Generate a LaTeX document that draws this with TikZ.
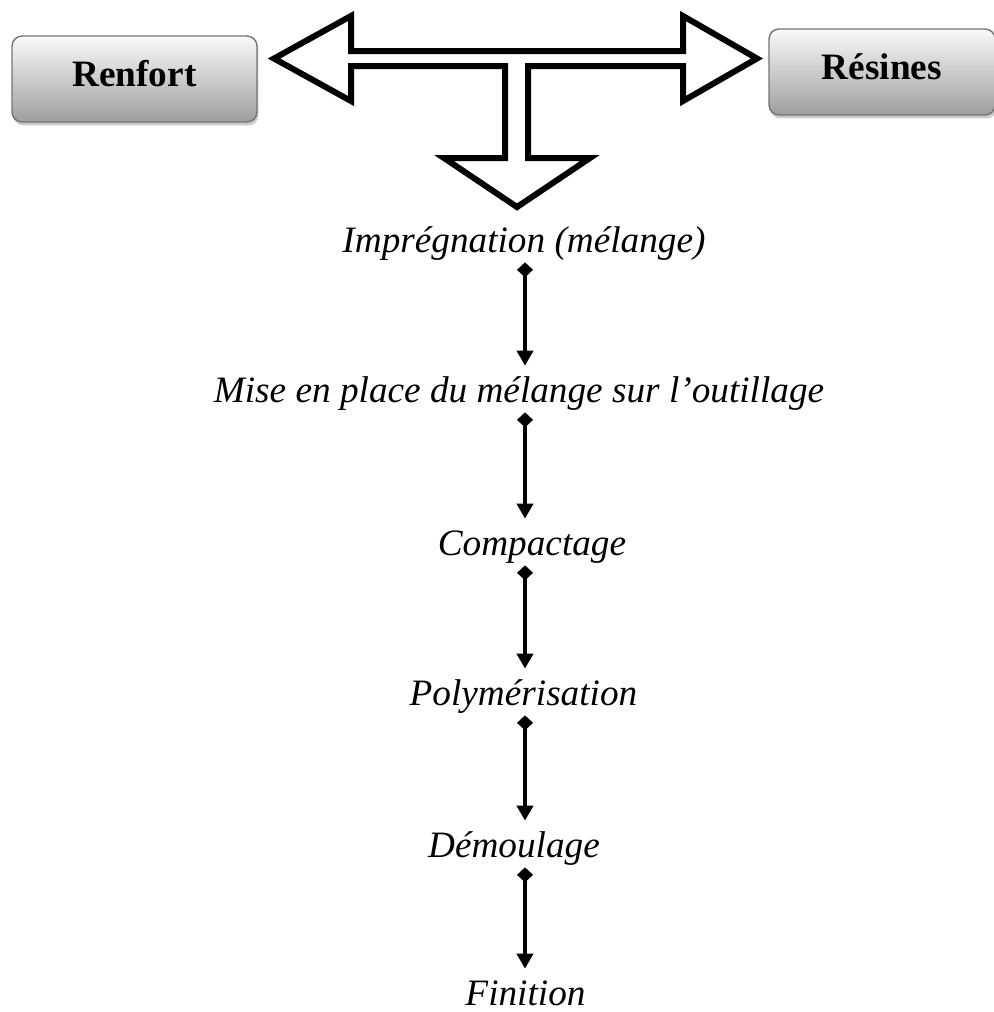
\documentclass[tikz,border=0pt]{standalone}
\usepackage{fontspec}
\setmainfont{Liberation Serif}
\usetikzlibrary{arrows.meta,shadows}

\begin{document}
\begin{tikzpicture}[x=0.02cm,y=-0.02cm]
	\tikzstyle{bloc}=[rectangle, rounded corners=0.2cm, draw=black!55, line width=0.8pt, top color=black!2, bottom color=black!38, minimum height=1.72cm, text height=0.5cm, text depth=0.22cm, font=\fontsize{21.2}{25}\selectfont\bfseries, drop shadow={shadow xshift=0.03cm, shadow yshift=-0.07cm, fill=black!40, opacity=0.5}]
	\tikzstyle{etape}=[anchor=base, inner xsep=0pt, inner ysep=0pt, text height=0.72cm, text depth=0.2cm, font=\fontsize{21.2}{25}\selectfont\itshape]
	\tikzstyle{fleche}=[line width=2.3pt, {Diamond[width=0.32cm,length=0.3cm]}-{Triangle[width=0.32cm,length=0.3cm]}]
	\useasboundingbox (0,0) rectangle (994,1012);
	\node[bloc, minimum width=4.9cm] (renfort) at (134.5,79) {Renfort};
	\node[bloc, minimum width=4.52cm] (resines) at (882,72) {Résines};
	\draw[line width=0.12cm] (274,58.5) -- (351,16) -- (351,51) -- (683,51) -- (683,16) -- (757,58.5) -- (683,101) -- (683,66) -- (528,66) -- (528,158) -- (590,158) -- (517,207) -- (444,158) -- (505,158) -- (505,66) -- (351,66) -- (351,101) -- cycle;
	\node[etape] (impr) at (524,252) {Imprégnation (mélange)};
	\node[etape] (mise) at (519,402) {Mise en place du mélange sur l’outillage};
	\node[etape] (compact) at (532,555) {Compactage};
	\node[etape] (polym) at (523.5,705) {Polymérisation};
	\node[etape] (demoul) at (514,857) {Démoulage};
	\node[etape, text depth=0pt] (finit) at (525.5,1005) {Finition};
	\coordinate (axe) at (525,0);
	\foreach \a/\b in {impr/mise,mise/compact,compact/polym,polym/demoul,demoul/finit}
		\draw[fleche] (\a.south -| axe) -- (\b.north -| axe);
\end{tikzpicture}
\end{document}
